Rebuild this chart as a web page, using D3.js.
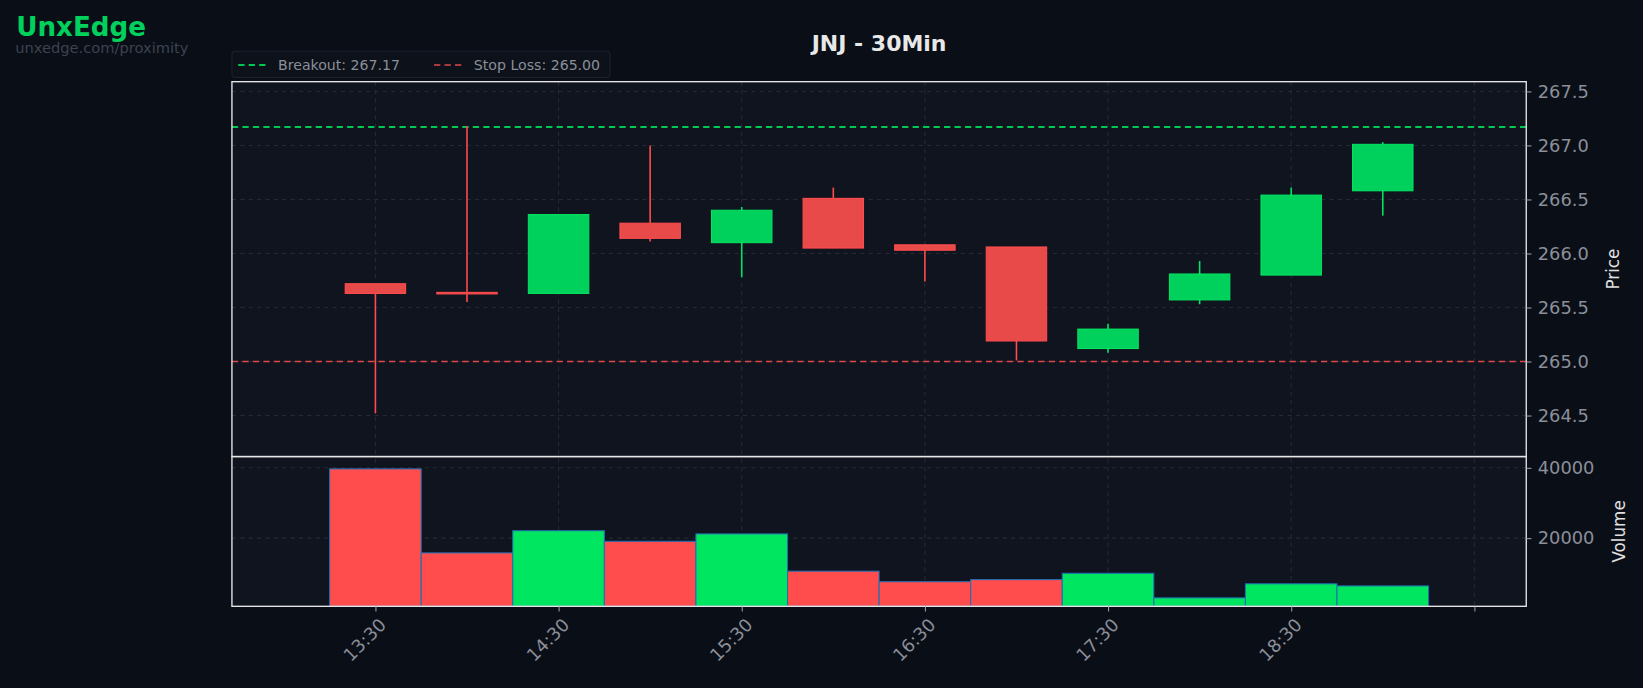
<!DOCTYPE html><html><head><meta charset="utf-8"><script src="https://cdn.jsdelivr.net/npm/d3@7"></script>
<style>body{margin:0;background:#0a0e17}svg{display:block}</style></head><body><svg id="c" width="1643" height="688" viewBox="0 0 1568 657"></svg>
<script>
const times=["13:30","14:00","14:30","15:00","15:30","16:00","16:30","17:00","17:30","18:00","18:30","19:00"];
const open=[265.72,265.64,265.63,266.28,266.10,266.51,266.08,266.06,265.12,265.57,265.80,266.58];
const high=[265.72,267.18,266.36,267.00,266.43,266.61,266.08,266.06,265.35,265.93,266.61,267.03];
const low=[264.52,265.55,265.63,266.11,265.78,266.05,265.74,265.01,265.08,265.53,265.80,266.35];
const close=[265.63,265.63,266.36,266.14,266.40,266.05,266.03,265.19,265.30,265.81,266.54,267.01];
const volume=[39700,15800,22100,19100,21200,10600,7600,8200,10000,3000,7000,6400];
const tickLabels=["13:30","14:30","15:30","16:30","17:30","18:30","19:30"];
const priceTicks=[264.5,265.0,265.5,266.0,266.5,267.0,267.5];
const volTicks=[20000,40000];
const breakout=267.17, stop=265.00;

const svg=d3.select("#c");
const L=221,R=1457,PT=78,PB=436,VB=579;
const pt=s=>{const [h,m]=s.split(":").map(Number);return h*60+m;};
const x=d3.scaleLinear().domain([pt("12:43"),pt("19:47")]).range([L,R]);
const y=d3.scaleLinear().domain([264.12,267.59]).range([PB,PT]);
const yv=d3.scaleLinear().domain([0,43200]).range([VB+2,PB]);
const F="DejaVu Sans";
svg.append("rect").attr("width",1568).attr("height",657).attr("fill","#0a0e17");
svg.append("rect").attr("x",L).attr("y",PT).attr("width",R-L).attr("height",VB-PT).attr("fill","#10141f");
const g=svg.append("g").attr("stroke","#262a36").attr("stroke-dasharray","4,4").attr("stroke-width",1);
tickLabels.forEach(t=>{g.append("line").attr("x1",x(pt(t))).attr("x2",x(pt(t))).attr("y1",PT).attr("y2",VB);});
priceTicks.forEach(p=>g.append("line").attr("x1",L).attr("x2",R).attr("y1",y(p)).attr("y2",y(p)));
volTicks.forEach(v=>g.append("line").attr("x1",L).attr("x2",R).attr("y1",yv(v)).attr("y2",yv(v)));
svg.append("line").attr("x1",L).attr("x2",R).attr("y1",y(breakout)).attr("y2",y(breakout)).attr("stroke","#00c853").attr("stroke-width",2).attr("stroke-dasharray","6,4");
svg.append("line").attr("x1",L).attr("x2",R).attr("y1",y(stop)).attr("y2",y(stop)).attr("stroke","#e04848").attr("stroke-width",1.5).attr("stroke-dasharray","6,4");
const bw=x(pt("14:00"))-x(pt("13:30"));
times.forEach((t,i)=>{
  const up=close[i]>=open[i]; const col=up?"#00d15c":"#e84a4a"; const st=up?"#00e660":"#ff4d4d";
  const cx=x(pt(t));
  svg.append("line").attr("x1",cx).attr("x2",cx).attr("y1",y(high[i])).attr("y2",y(low[i])).attr("stroke",st).attr("stroke-width",1.5);
  const top=y(Math.max(open[i],close[i])), h=Math.max(1.5,Math.abs(y(open[i])-y(close[i])));
  svg.append("rect").attr("x",cx-bw*0.33).attr("width",bw*0.66).attr("y",top).attr("height",h).attr("fill",col).attr("stroke",st).attr("stroke-width",1);
  svg.append("rect").attr("x",cx-bw/2).attr("width",bw).attr("y",yv(volume[i])).attr("height",VB-yv(volume[i])).attr("fill",up?"#00e660":"#ff4d4d").attr("stroke","#1f6fb5").attr("stroke-width",1);
});
svg.append("rect").attr("x",L).attr("y",PT).attr("width",R-L).attr("height",PB-PT).attr("fill","none").attr("stroke","#e6e6e6").attr("stroke-width",1.3);
svg.append("rect").attr("x",L).attr("y",PB).attr("width",R-L).attr("height",VB-PB).attr("fill","none").attr("stroke","#e6e6e6").attr("stroke-width",1.3);
const ay=svg.append("g").attr("transform",`translate(${R},0)`).call(d3.axisRight(y).tickValues(priceTicks).tickFormat(d3.format(".1f")).tickSize(5).tickPadding(6));
const av=svg.append("g").attr("transform",`translate(${R},0)`).call(d3.axisRight(yv).tickValues(volTicks).tickFormat(d3.format("d")).tickSize(5).tickPadding(6));
const ax=svg.append("g").attr("transform",`translate(0,${VB})`).call(d3.axisBottom(x).tickValues(tickLabels.map(pt)).tickFormat((d,i)=>i<6?tickLabels[i]:"").tickSize(5).tickPadding(4));
[ay,av,ax].forEach(a=>{a.select(".domain").remove();a.selectAll("line").attr("stroke","#9aa0aa");a.selectAll("text").attr("fill","#8a8f99").attr("font-family",F).attr("font-size",17);});
ax.selectAll("text").attr("text-anchor","end").attr("transform","translate(-4,4) rotate(-45)");
svg.append("text").attr("transform",`translate(1546,${(PT+PB)/2}) rotate(-90)`).attr("text-anchor","middle").attr("fill","#e0e0e0").attr("font-family",F).attr("font-size",16).text("Price");
svg.append("text").attr("transform",`translate(1551,${(PB+VB)/2}) rotate(-90)`).attr("text-anchor","middle").attr("fill","#e0e0e0").attr("font-family",F).attr("font-size",16).text("Volume");
svg.append("text").attr("x",839).attr("y",49).attr("text-anchor","middle").attr("fill","#e8e8e8").attr("font-family",F).attr("font-weight","bold").attr("font-size",21).text("JNJ - 30Min");
svg.append("text").attr("x",15).attr("y",34).attr("fill","#00d15c").attr("font-family",F).attr("font-weight","bold").attr("font-size",25).text("UnxEdge");
svg.append("text").attr("x",14).attr("y",51).attr("fill","#3c4350").attr("font-family",F).attr("font-size",14).text("unxedge.com/proximity");
svg.append("rect").attr("x",221).attr("y",49).attr("width",361).attr("height",25).attr("rx",3).attr("fill","#0d111a").attr("stroke","#1c2230");
svg.append("line").attr("x1",227).attr("x2",257).attr("y1",62).attr("y2",62).attr("stroke","#00c853").attr("stroke-width",2).attr("stroke-dasharray","6,4");
svg.append("text").attr("x",265).attr("y",67).attr("fill","#8a8f99").attr("font-family",F).attr("font-size",13.5).text("Breakout: "+breakout.toFixed(2));
svg.append("line").attr("x1",414).attr("x2",444).attr("y1",62).attr("y2",62).attr("stroke","#e04848").attr("stroke-width",1.5).attr("stroke-dasharray","6,4");
svg.append("text").attr("x",452).attr("y",67).attr("fill","#8a8f99").attr("font-family",F).attr("font-size",13.5).text("Stop Loss: "+stop.toFixed(2));
</script></body></html>
